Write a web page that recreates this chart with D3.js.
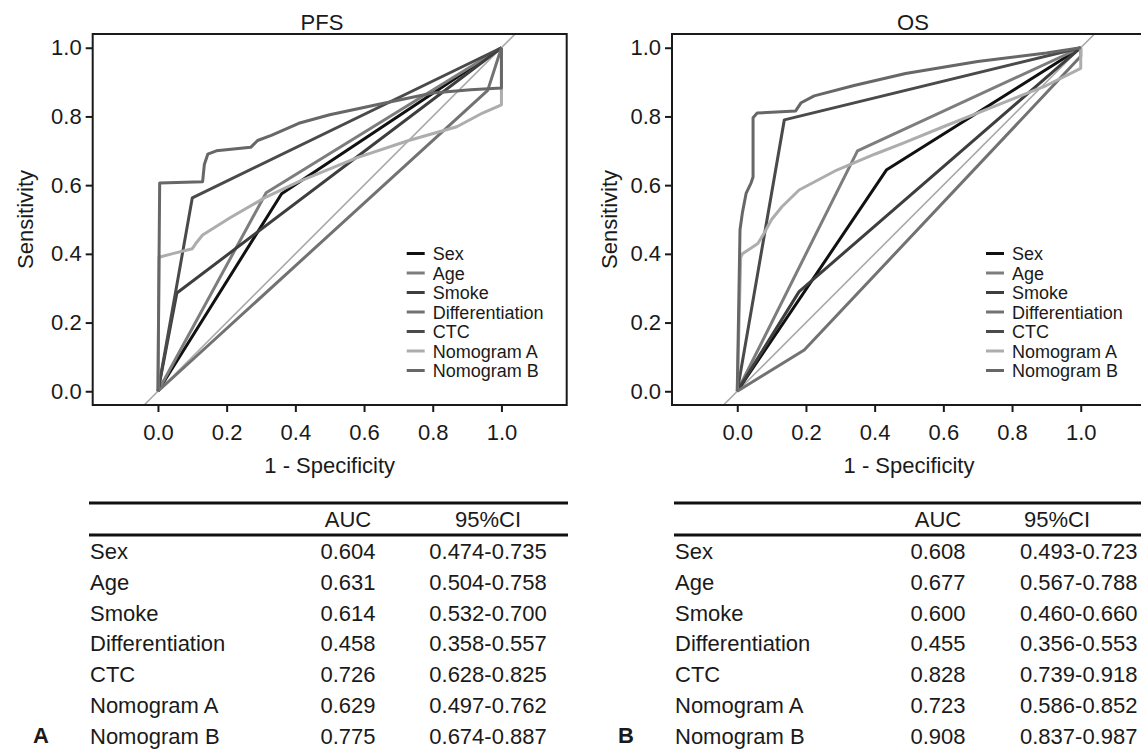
<!DOCTYPE html>
<html>
<head>
<meta charset="utf-8">
<script src="https://cdn.jsdelivr.net/npm/d3@7/dist/d3.min.js"></script>
<style>
  body { margin: 0; background: #fff; }
  text { font-family: "Liberation Sans", Arial, sans-serif; fill: #1a1a1a; }
</style>
</head>
<body>
<svg id="chart" width="1141" height="750"></svg>
<script>
// ---- data ----
const categories = ["Sex", "Age", "Smoke", "Differentiation", "CTC", "Nomogram A", "Nomogram B"];
const axisTicks = [0, 0.2, 0.4, 0.6, 0.8, 1.0];

// ROC points as [1 - specificity, sensitivity]
const pfsSex = [[0, 0], [0.36, 0.575], [1, 1]];
const pfsAge = [[0, 0], [0.315, 0.578], [1, 1]];
const pfsSmoke = [[0, 0], [0.055, 0.286], [1, 1]];
const pfsDiff = [[0, 0], [0.96, 0.876], [1, 1]];
const pfsCtc = [[0, 0], [0.10, 0.563], [1, 1]];
const pfsNomoA = [[0, 0], [0.003, 0.39], [0.04, 0.40], [0.10, 0.415], [0.11, 0.43], [0.13, 0.455],
  [0.21, 0.505], [0.31, 0.563], [0.41, 0.61], [0.58, 0.68], [0.73, 0.73], [0.87, 0.77],
  [0.945, 0.81], [1.0, 0.834], [1, 1]];
const pfsNomoB = [[0, 0], [0.005, 0.606], [0.13, 0.61], [0.135, 0.66], [0.145, 0.69], [0.17, 0.70],
  [0.27, 0.71], [0.29, 0.73], [0.33, 0.745], [0.41, 0.78], [0.5, 0.805], [0.64, 0.835],
  [0.8, 0.868], [0.91, 0.878], [1.0, 0.883], [1, 1]];

const osSex = [[0, 0], [0.435, 0.645], [1, 1]];
const osAge = [[0, 0], [0.35, 0.70], [1, 1]];
const osSmoke = [[0, 0], [0.18, 0.29], [1, 1]];
const osDiff = [[0, 0], [0.195, 0.12], [1, 0.975], [1, 1]];
const osCtc = [[0, 0], [0.137, 0.79], [1, 1]];
const osNomoA = [[0, 0], [0.01, 0.39], [0.015, 0.40], [0.045, 0.42], [0.06, 0.43], [0.078, 0.46],
  [0.10, 0.50], [0.13, 0.537], [0.18, 0.586], [0.29, 0.644], [0.40, 0.69], [0.485, 0.723],
  [0.6, 0.77], [0.75, 0.83], [0.9, 0.89], [1.0, 0.94], [1, 1]];
const osNomoB = [[0, 0], [0.008, 0.47], [0.015, 0.52], [0.026, 0.577], [0.04, 0.606], [0.046, 0.624],
  [0.046, 0.796], [0.058, 0.81], [0.17, 0.816], [0.186, 0.84], [0.224, 0.86], [0.34, 0.89],
  [0.49, 0.925], [0.7, 0.96], [0.9, 0.985], [1, 1]];

const pfsAuc = [0.604, 0.631, 0.614, 0.458, 0.726, 0.629, 0.775];
const pfsCiLow = [0.474, 0.504, 0.532, 0.358, 0.628, 0.497, 0.674];
const pfsCiHigh = [0.735, 0.758, 0.700, 0.557, 0.825, 0.762, 0.887];
const osAuc = [0.608, 0.677, 0.600, 0.455, 0.828, 0.723, 0.908];
const osCiLow = [0.493, 0.567, 0.460, 0.356, 0.739, 0.586, 0.837];
const osCiHigh = [0.723, 0.788, 0.660, 0.553, 0.918, 0.852, 0.987];

// ---- styles ----
const lineColors = ["#111111", "#7d7d7d", "#3e3e3e", "#727272", "#4a4a4a", "#adadad", "#676767"];
const fmt = d3.format(".3f");

const panels = [
  { title: "PFS", titleX: 322, left: 92.7, ylabX: 33, letter: "A", letterX: 41,
    curves: [pfsSex, pfsAge, pfsSmoke, pfsDiff, pfsCtc, pfsNomoA, pfsNomoB],
    auc: pfsAuc, lo: pfsCiLow, hi: pfsCiHigh,
    tab: { x0: 89, x1: 568, aucX: 348, ciHeadX: 488, ciX: 488, ciAnchor: "middle" } },
  { title: "OS", titleX: 913, left: 672, ylabX: 617, letter: "B", letterX: 626,
    curves: [osSex, osAge, osSmoke, osDiff, osCtc, osNomoA, osNomoB],
    auc: osAuc, lo: osCiLow, hi: osCiHigh,
    tab: { x0: 674, x1: 1141, aucX: 938, ciHeadX: 1057, ciX: 1020, ciAnchor: "start" } }
];

const svg = d3.select("#chart");
const boxTop = 34, boxH = 371, boxW = 474;

panels.forEach(p => {
  const g = svg.append("g");

  const x = d3.scaleLinear().domain([-0.19, 1.19]).range([p.left, p.left + boxW]);
  const y = d3.scaleLinear().domain([-0.04, 1.04]).range([boxTop + boxH, boxTop]);

  // reference diagonal
  g.append("line")
    .attr("x1", x(-0.04)).attr("y1", y(-0.04))
    .attr("x2", x(1.04)).attr("y2", y(1.04))
    .attr("stroke", "#a8a8a8").attr("stroke-width", 1.6);

  const line = d3.line().x(d => x(d[0])).y(d => y(d[1]));

  g.selectAll(".roc")
    .data(p.curves)
    .enter()
    .append("path")
    .attr("class", "roc")
    .attr("d", line)
    .attr("fill", "none")
    .attr("stroke", (d, i) => lineColors[i])
    .attr("stroke-width", 3)
    .attr("stroke-linejoin", "round");

  // frame
  g.append("rect")
    .attr("x", p.left).attr("y", boxTop)
    .attr("width", boxW).attr("height", boxH)
    .attr("fill", "none").attr("stroke", "#1a1a1a").attr("stroke-width", 2);

  const yAxis = d3.axisLeft(y).tickValues(axisTicks).tickSize(7).tickPadding(4)
    .tickFormat(d3.format(".1f"));
  const xAxis = d3.axisBottom(x).tickValues(axisTicks).tickSize(7).tickPadding(12)
    .tickFormat(d3.format(".1f"));

  g.append("g").attr("transform", `translate(${p.left},0)`).call(yAxis);
  g.append("g").attr("transform", `translate(0,${boxTop + boxH})`).call(xAxis);
  g.selectAll(".domain").remove();
  g.selectAll(".tick line").attr("stroke", "#1a1a1a").attr("stroke-width", 2);
  g.selectAll(".tick text").attr("font-size", 22).attr("fill", "#1a1a1a")
    .style("font-family", "'Liberation Sans', Arial, sans-serif");

  // titles
  g.append("text").attr("x", p.titleX).attr("y", 30)
    .attr("text-anchor", "middle").attr("font-size", 22).text(p.title);
  g.append("text").attr("x", p.left + boxW / 2).attr("y", 473)
    .attr("text-anchor", "middle").attr("font-size", 22).text("1 - Specificity");
  g.append("text")
    .attr("transform", `translate(${p.ylabX},${boxTop + boxH / 2}) rotate(-90)`)
    .attr("text-anchor", "middle").attr("font-size", 22).text("Sensitivity");

  // legend
  const leg = g.append("g").attr("transform", `translate(${p.left + 314},253.5)`);
  const rows = leg.selectAll(".leg").data(categories).enter().append("g")
    .attr("transform", (d, i) => `translate(0,${i * 19.5})`);
  rows.append("line").attr("x1", 0).attr("x2", 18).attr("y1", 0).attr("y2", 0)
    .attr("stroke", (d, i) => lineColors[i]).attr("stroke-width", 3);
  rows.append("text").attr("x", 26).attr("y", 6.5).attr("font-size", 18).text(d => d);

  // AUC table
  const t = p.tab;
  const tg = g.append("g");
  [503, 535].forEach(yy => {
    tg.append("line").attr("x1", t.x0).attr("x2", t.x1).attr("y1", yy).attr("y2", yy)
      .attr("stroke", "#111").attr("stroke-width", 3);
  });
  tg.append("text").attr("x", t.aucX).attr("y", 527).attr("text-anchor", "middle")
    .attr("font-size", 22).text("AUC");
  tg.append("text").attr("x", t.ciHeadX).attr("y", 527).attr("text-anchor", "middle")
    .attr("font-size", 22).text("95%CI");

  const rowY = i => 559 + i * 30.8;
  const trs = tg.selectAll(".row").data(categories).enter().append("g");
  trs.append("text").attr("x", t.x0 + 1).attr("y", (d, i) => rowY(i))
    .attr("font-size", 22).text(d => d);
  trs.append("text").attr("x", t.aucX).attr("y", (d, i) => rowY(i))
    .attr("text-anchor", "middle").attr("font-size", 22).text((d, i) => fmt(p.auc[i]));
  trs.append("text").attr("x", t.ciX).attr("y", (d, i) => rowY(i))
    .attr("text-anchor", t.ciAnchor).attr("font-size", 22)
    .text((d, i) => fmt(p.lo[i]) + "-" + fmt(p.hi[i]));

  g.append("text").attr("x", p.letterX).attr("y", 743).attr("text-anchor", "middle")
    .attr("font-size", 22).attr("font-weight", "bold").text(p.letter);
});
</script>
</body>
</html>
